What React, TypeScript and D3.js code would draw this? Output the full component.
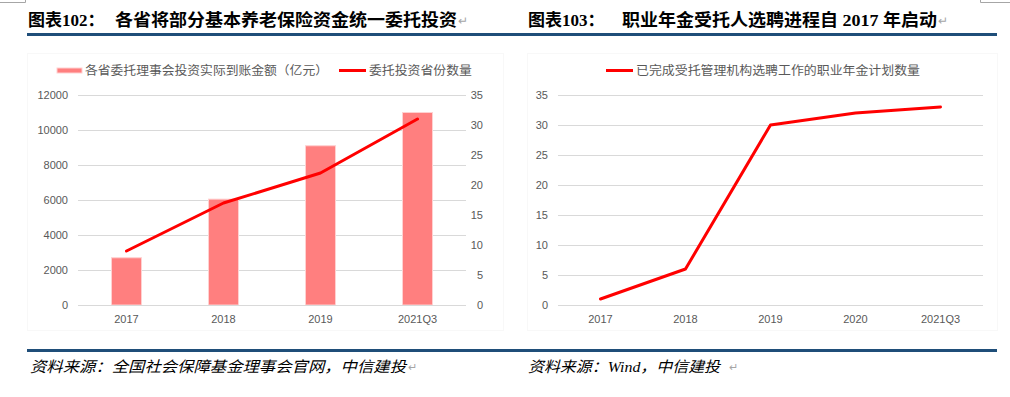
import React, { useEffect, useRef } from "react";
import * as d3 from "d3";

const years1 = ["2017", "2018", "2019", "2021Q3"];
const amount = [2700, 6050, 9100, 11000];
const provinces = [9, 17, 22, 31];
const leftTicks = [0, 2000, 4000, 6000, 8000, 10000, 12000];
const rightTicks = [0, 5, 10, 15, 20, 25, 30, 35];

const years2 = ["2017", "2018", "2019", "2020", "2021Q3"];
const plans = [1, 6, 30, 32, 33];

const BLUE = "#1F4E79";
const GRID = "#d9d9d9";
const LABEL = "#595959";
const AXIS_FONT = "'Liberation Sans', Arial, sans-serif";
const CJK = "'Noto Sans CJK SC', sans-serif";

const App = () => {
  const svgRef = useRef<SVGSVGElement>(null);

  useEffect(() => {
    const svg = d3.select(svgRef.current);
    svg.selectAll("*").remove();

    // page crop marks
    svg.append("path").attr("d", "M0,2.5H25.5V0").attr("fill", "none").attr("stroke", "#a6a6a6");
    svg.append("path").attr("d", "M1010,2.5H980.5V0").attr("fill", "none").attr("stroke", "#a6a6a6");

    // titles
    const titles = [
      { x: 28, label: "图表102：", x2: 115, text: "各省将部分基本养老保险资金统一委托投资", len: 342 },
      { x: 528, label: "图表103：", x2: 622, text: "职业年金受托人选聘进程自 2017 年启动", len: 315 },
    ];
    titles.forEach(t => {
      svg.append("text").attr("x", t.x).attr("y", 26)
        .style("font-family", `'Liberation Serif', ${CJK}`).style("font-weight", "bold")
        .style("font-size", "17px").attr("fill", "#000").text(t.label);
      svg.append("text").attr("x", t.x2).attr("y", 26)
        .style("font-family", `'Liberation Serif', ${CJK}`).style("font-weight", "bold")
        .style("font-size", "17px").attr("fill", "#000")
        .attr("textLength", t.len).attr("lengthAdjust", "spacingAndGlyphs").text(t.text);
      svg.append("text").attr("x", t.x2 + t.len + 1).attr("y", 25)
        .style("font-family", AXIS_FONT).style("font-size", "12px").attr("fill", "#a6a6a6").text("↵");
    });

    svg.append("rect").attr("x", 27).attr("y", 33).attr("width", 970).attr("height", 3).attr("fill", BLUE);
    svg.append("rect").attr("x", 27).attr("y", 349).attr("width", 970).attr("height", 3).attr("fill", BLUE);

    // sources
    const sources = [
      { x: 30, text: "资料来源：全国社会保障基金理事会官网，中信建投", len: 376, arrow: 408 },
      { x: 528, text: "资料来源：Wind，中信建投", len: 192, arrow: 729 },
    ];
    sources.forEach(s => {
      svg.append("text").attr("x", s.x).attr("y", 372)
        .style("font-family", `'Liberation Serif', ${CJK}`).style("font-style", "italic")
        .style("font-size", "15px").attr("fill", "#000")
        .attr("textLength", s.len).attr("lengthAdjust", "spacingAndGlyphs").text(s.text);
      svg.append("text").attr("x", s.arrow).attr("y", 371)
        .style("font-family", AXIS_FONT).style("font-size", "11px").attr("fill", "#a6a6a6").text("↵");
    });

    // faint chart frames
    svg.append("rect").attr("x", 27.5).attr("y", 53.5).attr("width", 476).attr("height", 277)
      .attr("fill", "none").attr("stroke", "#f8f8f8");
    svg.append("rect").attr("x", 527.5).attr("y", 53.5).attr("width", 470).attr("height", 277)
      .attr("fill", "none").attr("stroke", "#f8f8f8");

    const top = 95, bottom = 305;

    // ---- left chart ----
    const x1 = d3.scaleBand().domain(years1).range([78, 466]).paddingInner(0).paddingOuter(0);
    const yL = d3.scaleLinear().domain([0, 12000]).range([bottom, top]);
    const yR = d3.scaleLinear().domain([0, 35]).range([bottom, top]);
    const g1 = svg.append("g");

    g1.selectAll(".grid").data(leftTicks).enter().append("line")
      .attr("x1", 78).attr("x2", 466)
      .attr("y1", d => Math.round(yL(d)) + 0.5).attr("y2", d => Math.round(yL(d)) + 0.5)
      .attr("stroke", GRID);

    g1.selectAll(".lt").data(leftTicks).enter().append("text")
      .attr("x", 68).attr("y", d => yL(d) + 4).attr("text-anchor", "end")
      .style("font-family", AXIS_FONT).style("font-size", "11px").attr("fill", LABEL)
      .text(d => d);
    g1.selectAll(".rt").data(rightTicks).enter().append("text")
      .attr("x", 483).attr("y", d => yR(d) + 4).attr("text-anchor", "end")
      .style("font-family", AXIS_FONT).style("font-size", "11px").attr("fill", LABEL)
      .text(d => d);

    const bw = 30;
    g1.selectAll(".bar").data(amount).enter().append("rect")
      .attr("x", (d, i) => x1(years1[i])! + x1.bandwidth() / 2 - bw / 2)
      .attr("y", d => yL(d))
      .attr("width", bw)
      .attr("height", d => bottom - yL(d))
      .attr("fill", "#FF7F7F").attr("stroke", "#ffd1d1").attr("stroke-width", 1);

    g1.append("line").attr("x1", 78).attr("x2", 466).attr("y1", bottom + 0.5).attr("y2", bottom + 0.5)
      .attr("stroke", GRID);

    g1.selectAll(".xl").data(years1).enter().append("text")
      .attr("x", d => x1(d)! + x1.bandwidth() / 2).attr("y", 323).attr("text-anchor", "middle")
      .style("font-family", AXIS_FONT).style("font-size", "11px").attr("fill", LABEL)
      .text(d => d);

    const line1 = d3.line<number>()
      .x((d, i) => x1(years1[i])! + x1.bandwidth() / 2)
      .y(d => yR(d));
    g1.append("path").attr("d", line1(provinces)).attr("fill", "none")
      .attr("stroke", "#FF0000").attr("stroke-width", 3).attr("stroke-linejoin", "round").attr("stroke-linecap", "round");

    // legend left
    g1.append("rect").attr("x", 57).attr("y", 68).attr("width", 25).attr("height", 5)
      .attr("fill", "#FF7F7F").attr("stroke", "#ffd1d1");
    g1.append("text").attr("x", 85).attr("y", 75)
      .style("font-family", CJK).style("font-size", "12px").attr("fill", LABEL)
      .attr("textLength", 243).attr("lengthAdjust", "spacingAndGlyphs")
      .text("各省委托理事会投资实际到账金额（亿元）");
    g1.append("line").attr("x1", 339).attr("x2", 366).attr("y1", 70.5).attr("y2", 70.5)
      .attr("stroke", "#FF0000").attr("stroke-width", 3);
    g1.append("text").attr("x", 369).attr("y", 75)
      .style("font-family", CJK).style("font-size", "12px").attr("fill", LABEL)
      .attr("textLength", 103).attr("lengthAdjust", "spacingAndGlyphs")
      .text("委托投资省份数量");

    // ---- right chart ----
    const x2 = d3.scaleBand().domain(years2).range([558, 983]);
    const y2 = d3.scaleLinear().domain([0, 35]).range([bottom, top]);
    const g2 = svg.append("g");

    g2.selectAll(".grid").data(rightTicks).enter().append("line")
      .attr("x1", 558).attr("x2", 983)
      .attr("y1", d => Math.round(y2(d)) + 0.5).attr("y2", d => Math.round(y2(d)) + 0.5)
      .attr("stroke", GRID);
    g2.selectAll(".lt").data(rightTicks).enter().append("text")
      .attr("x", 548).attr("y", d => y2(d) + 4).attr("text-anchor", "end")
      .style("font-family", AXIS_FONT).style("font-size", "11px").attr("fill", LABEL)
      .text(d => d);
    g2.selectAll(".xl").data(years2).enter().append("text")
      .attr("x", d => x2(d)! + x2.bandwidth() / 2).attr("y", 323).attr("text-anchor", "middle")
      .style("font-family", AXIS_FONT).style("font-size", "11px").attr("fill", LABEL)
      .text(d => d);

    const line2 = d3.line<number>()
      .x((d, i) => x2(years2[i])! + x2.bandwidth() / 2)
      .y(d => y2(d));
    g2.append("path").attr("d", line2(plans)).attr("fill", "none")
      .attr("stroke", "#FF0000").attr("stroke-width", 3).attr("stroke-linejoin", "round").attr("stroke-linecap", "round");

    g2.append("line").attr("x1", 606).attr("x2", 633).attr("y1", 70.5).attr("y2", 70.5)
      .attr("stroke", "#FF0000").attr("stroke-width", 3);
    g2.append("text").attr("x", 636).attr("y", 75)
      .style("font-family", CJK).style("font-size", "12px").attr("fill", LABEL)
      .attr("textLength", 284).attr("lengthAdjust", "spacingAndGlyphs")
      .text("已完成受托管理机构选聘工作的职业年金计划数量");
  }, []);

  return (
    <svg
      ref={svgRef}
      width={1010}
      height={397}
      style={{ position: "absolute", left: 0, top: 0, background: "#fff" }}
    />
  );
};

export default App;
